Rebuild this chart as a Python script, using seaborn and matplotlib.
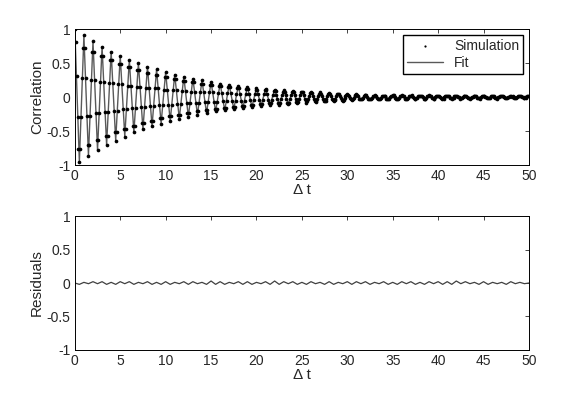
import numpy as np
import seaborn as sns
import matplotlib.pyplot as plt

# simulated correlation, one row per unit of time (10 samples per row)
sim = [
    1.00, .81, .31, -.29, -.77, -.95, -.77, -.29, .28, .73,
    .91, .73, .28, -.27, -.70, -.86, -.70, -.27, .25, .66,
    .82, .66, .25, -.24, -.63, -.78, -.63, -.24, .23, .60,
    .74, .60, .23, -.22, -.57, -.71, -.57, -.22, .21, .54,
    .67, .54, .21, -.20, -.52, -.64, -.52, -.20, .19, .49,
    .61, .49, .19, -.18, -.47, -.58, -.47, -.18, .17, .44,
    .55, .44, .17, -.16, -.42, -.52, -.42, -.16, .15, .40,
    .50, .40, .15, -.15, -.38, -.47, -.38, -.15, .14, .36,
    .45, .36, .14, -.13, -.35, -.43, -.35, -.13, .13, .33,
    .41, .33, .13, -.12, -.31, -.39, -.31, -.12, .11, .30,
    .37, .30, .11, -.11, -.28, -.35, -.28, -.11, .10, .27,
    .33, .27, .10, -.10, -.26, -.32, -.26, -.10, .09, .24,
    .30, .24, .09, -.09, -.23, -.29, -.23, -.09, .08, .22,
    .27, .22, .08, -.08, -.21, -.26, -.21, -.08, .08, .20,
    .25, .20, .08, -.07, -.19, -.24, -.19, -.07, .07, .18,
    .22, .18, .07, -.07, -.17, -.21, -.17, -.07, .06, .16,
    .20, .16, .06, -.06, -.16, -.19, -.16, -.06, .06, .15,
    .18, .15, .06, -.05, -.14, -.17, -.14, -.05, .05, .13,
    .17, .13, .05, -.05, -.13, -.16, -.13, -.05, .05, .12,
    .15, .12, .05, -.04, -.12, -.14, -.12, -.04, .04, .11,
    .14, .11, .04, -.04, -.10, -.13, -.10, -.04, .04, .10,
    .12, .10, .04, -.04, -.09, -.12, -.09, -.04, .03, .09,
    .11, .09, .03, -.03, -.09, -.11, -.09, -.03, .03, .08,
    .10, .08, .03, -.03, -.08, -.10, -.08, -.03, .03, .07,
    .09, .07, .03, -.03, -.07, -.09, -.07, -.03, .03, .07,
    .08, .07, .03, -.02, -.06, -.08, -.06, -.02, .02, .06,
    .07, .06, .02, -.02, -.06, -.07, -.06, -.02, .02, .05,
    .07, .05, .02, -.02, -.05, -.06, -.05, -.02, .02, .05,
    .06, .05, .02, -.02, -.04, -.05, -.04, -.02, .02, .04,
    .05, .04, .02, -.01, -.04, -.05, -.04, -.01, .01, .03,
    .04, .03, .01, -.01, -.03, -.04, -.03, -.01, .01, .03,
    .04, .03, .01, -.02, -.03, -.03, -.03, -.01, .02, .03,
    .03, .03, .00, -.02, -.02, -.03, -.03, -.01, .01, .02,
    .03, .02, .02, -.01, -.02, -.03, -.02, -.01, .01, .02,
    .02, .02, .01, -.02, -.02, -.02, -.03, .00, .01, .02,
    .03, .03, .00, -.01, -.02, -.03, -.03, -.01, .01, .02,
    .03, .02, .01, -.01, -.03, -.02, -.02, -.01, .01, .02,
    .02, .03, .00, -.01, -.02, -.03, -.01, -.01, .02, .02,
    .02, .02, .01, .00, -.02, -.02, -.02, -.01, .01, .02,
    .03, .01, .01, -.01, -.01, -.02, -.02, .00, .01, .02,
    .02, .02, .00, -.01, -.02, -.01, -.02, .00, .01, .01,
    .02, .01, .01, -.01, -.01, -.02, -.01, -.01, .01, .02,
    .01, .02, .00, .00, -.02, -.01, -.01, .00, .01, .01,
    .02, .01, .00, -.01, -.01, -.02, -.01, .00, .00, .02,
    .01, .01, .01, -.01, -.01, -.01, -.02, .00, .01, .01,
    .02, .01, .00, .00, -.01, -.01, -.01, -.01, .01, .01,
    .01, .01, .00, -.01, -.01, -.02, .00, .00, .01, .01,
    .01, .02, .00, .00, -.01, -.01, -.01, .00, .00, .01,
    .01, .00, .01, -.01, .00, -.01, -.01, .00, .01, .01,
    .01, .01, .00, .00, -.01, -.01, .00, -.01, .01, .01,
    .01,
]

# fitted curve, peaks and troughs every half unit of time
fit = [
    1.000, -.951, .905, -.861, .819, -.779, .741, -.705, .670, -.638,
    .607, -.577, .549, -.522, .497, -.472, .449, -.427, .407, -.387,
    .368, -.350, .333, -.317, .301, -.287, .273, -.259, .247, -.235,
    .223, -.212, .202, -.192, .183, -.174, .165, -.157, .150, -.142,
    .135, -.129, .122, -.116, .111, -.105, .100, -.095, .091, -.086,
    .082, -.078, .074, -.071, .067, -.064, .058, -.054, .050, -.045,
    .040, -.036, .033, -.030, .027, -.025, .023, -.021, .019, -.018,
    .017, -.016, .015, -.014, .013, -.012, .012, -.011, .010, -.010,
    .009, -.009, .008, -.008, .008, -.007, .007, -.007, .006, -.006,
    .006, -.006, .005, -.005, .005, -.005, .004, -.004, .004, -.004,
    .004,
]

# residuals, every half unit of time
resid = [
    .00, -.02, .01, -.01, .02, -.01, .02, -.02, .01, -.02,
    .02, -.01, .02, -.02, .01, -.01, .02, -.02, .01, -.02,
    .02, -.02, .01, -.01, .02, -.02, .02, -.01, .01, -.02,
    .03, -.02, .02, -.02, .01, -.01, .02, -.02, .02, -.02,
    .01, -.01, .02, -.02, .03, -.02, .02, -.01, .02, -.02,
    .01, -.02, .02, -.01, .01, -.02, .02, -.02, .01, -.01,
    .02, -.02, .02, -.01, .02, -.02, .01, -.01, .02, -.02,
    .01, -.02, .02, -.01, .02, -.02, .01, -.02, .02, -.01,
    .02, -.02, .02, -.02, .03, -.01, .02, -.01, .01, -.02,
    .02, -.02, .01, -.01, .01, -.02, .02, -.01, .01, -.01,
    .00,
]

t_max = 50
t_sim = np.linspace(0, t_max, len(sim))
t_fit = np.linspace(0, t_max, len(fit))
t_res = np.linspace(0, t_max, len(resid))

sns.set_style("white")
plt.rcParams['font.family'] = ['Liberation Sans', 'DejaVu Sans']
plt.rcParams['axes.unicode_minus'] = False

fig = plt.figure(figsize=(5.8, 3.95), dpi=100)
ax1 = fig.add_axes([0.129, 0.582, 0.783, 0.344])
ax2 = fig.add_axes([0.129, 0.114, 0.783, 0.339])

sns.lineplot(x=t_fit, y=fit, ax=ax1, color='0.35', linewidth=1.0, label='Fit', zorder=2)
sns.scatterplot(x=t_sim, y=sim, ax=ax1, color='k', s=7, linewidth=0,
                label='Simulation', zorder=3)

sns.lineplot(x=t_res, y=resid, ax=ax2, color='0.25', linewidth=0.9)

handles, labels = ax1.get_legend_handles_labels()
order = [labels.index('Simulation'), labels.index('Fit')]
ax1.legend([handles[i] for i in order], [labels[i] for i in order],
           loc='upper right', frameon=True, fancybox=False, edgecolor='k',
           framealpha=1, fontsize=10, handlelength=2.6, borderaxespad=0.4,
           borderpad=0.3, labelspacing=0.2, markerscale=0.6)

yticks = [-1, -0.5, 0, 0.5, 1]
ylabels = ['-1', '-0.5', '0', '0.5', '1']
for ax, name in [(ax1, 'Correlation'), (ax2, 'Residuals')]:
    ax.set_xlim(0, 50)
    ax.set_ylim(-1, 1)
    ax.set_xticks(range(0, 51, 5))
    ax.set_yticks(yticks)
    ax.set_yticklabels(ylabels)
    ax.tick_params(direction='in', top=True, right=True, length=3,
                   width=0.6, labelsize=10, pad=3)
    for s in ax.spines.values():
        s.set_color('k')
        s.set_linewidth(0.7)
    ax.set_xlabel('Δ t', fontsize=11, labelpad=0)
    ax.set_ylabel(name, fontsize=11, labelpad=2)

fig.savefig('out.png', dpi=100)
